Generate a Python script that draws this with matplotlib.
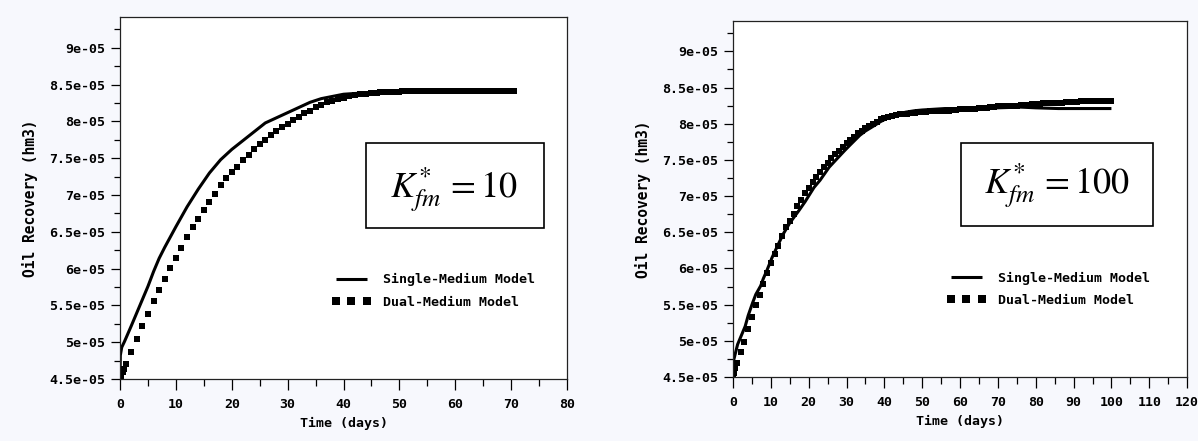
import numpy as np
import matplotlib
matplotlib.use("Agg")
import matplotlib.pyplot as plt
from matplotlib.patches import Rectangle

plt.rcParams['mathtext.fontset'] = 'stix'
plt.rcParams['font.family'] = 'DejaVu Sans Mono'

# ---- left panel (K*fm = 10), values in 1e-05 hm3 ----
t_single_10 = [0, 0.05, 0.3, 0.8, 2, 3, 4, 5, 6, 7, 8, 9, 10, 12, 14, 16, 18, 20, 22,
               24, 26, 28, 30, 32, 34, 36, 38, 40, 42, 45, 50, 55, 60, 65, 70.5]
v_single_10 = [4.50, 4.82, 4.93, 5.01, 5.22, 5.40, 5.58, 5.76, 5.96, 6.14, 6.29, 6.43,
               6.57, 6.84, 7.08, 7.30, 7.48, 7.62, 7.74, 7.86, 7.98, 8.05, 8.12, 8.19,
               8.26, 8.31, 8.34, 8.37, 8.38, 8.39, 8.40, 8.41, 8.41, 8.41, 8.41]

t_dual_10 = [0, 0.25, 0.5, 0.75, 1, 2, 3, 4, 5, 6, 7, 8, 9, 10, 11, 12, 13, 14, 15, 16,
             17, 18, 19, 20, 21, 22, 23, 24, 25, 26, 27, 28, 29, 30, 31, 32, 33, 34, 35,
             36, 37, 38, 39, 40, 41, 42, 43, 44, 45,
             45.5, 46, 46.5, 47, 47.5, 48, 48.5, 49, 49.5, 50, 50.5, 51, 51.5, 52, 52.5,
             53, 53.5, 54, 54.5, 55, 55.5, 56, 56.5, 57, 57.5, 58, 58.5, 59, 59.5, 60,
             60.5, 61, 61.5, 62, 62.5, 63, 63.5, 64, 64.5, 65, 65.5, 66, 66.5, 67, 67.5,
             68, 68.5, 69, 69.5, 70, 70.5]
v_dual_10 = [4.50, 4.54, 4.59, 4.64, 4.70, 4.87, 5.05, 5.22, 5.39, 5.56, 5.71, 5.86, 6.01,
             6.15, 6.28, 6.43, 6.56, 6.68, 6.79, 6.90, 7.02, 7.13, 7.23, 7.31, 7.38, 7.47,
             7.54, 7.62, 7.69, 7.75, 7.81, 7.87, 7.93, 7.97, 8.02, 8.06, 8.11, 8.14, 8.19,
             8.23, 8.26, 8.28, 8.30, 8.32, 8.34, 8.36, 8.37, 8.38, 8.39,
             8.39, 8.39, 8.40, 8.40, 8.40, 8.40, 8.40, 8.40, 8.40, 8.40, 8.41, 8.41, 8.41,
             8.41, 8.41, 8.41, 8.41, 8.41, 8.41, 8.41, 8.41, 8.41, 8.41, 8.41, 8.41, 8.41,
             8.41, 8.41, 8.41, 8.41, 8.41, 8.41, 8.41, 8.41, 8.41, 8.41, 8.41, 8.41, 8.41,
             8.41, 8.41, 8.41, 8.41, 8.41, 8.41, 8.41, 8.41, 8.41, 8.41, 8.41, 8.41]

# ---- right panel (K*fm = 100) ----
t_single_100 = [0, 0.2, 1.2, 2, 3.2, 4, 5.2, 6, 7.3, 8, 9, 10.3, 12, 13.3, 15, 17.4, 19,
                21.4, 23, 25.4, 27, 29.5, 31, 33.5, 35, 37.5, 39, 41.6, 43, 45.6, 48, 50,
                53, 56, 60, 66, 70, 76, 80, 86, 90, 95, 100]
v_single_100 = [4.50, 4.74, 4.95, 5.05, 5.20, 5.35, 5.53, 5.64, 5.76, 5.86, 5.98, 6.15,
                6.34, 6.48, 6.63, 6.80, 6.92, 7.12, 7.22, 7.40, 7.49, 7.63, 7.71, 7.84,
                7.90, 7.98, 8.03, 8.10, 8.12, 8.16, 8.18, 8.19, 8.20, 8.21, 8.21, 8.22,
                8.22, 8.23, 8.22, 8.21, 8.21, 8.21, 8.21]

t_dual_100 = [0, 0.25, 0.5, 1, 2, 3, 4, 5, 6, 7, 8, 9, 10, 11, 12, 13, 14, 15, 16, 17, 18,
              19, 20, 21, 22, 23, 24, 25, 26, 27, 28, 29, 30, 31, 32, 33, 34, 35, 36, 37,
              38, 39, 40, 41, 42, 43, 44, 45, 46, 47, 48, 49, 50, 51, 52, 53, 54, 55, 56,
              57, 58, 59, 60, 61, 62, 63, 64, 65, 66, 67, 68, 69, 70, 71, 72, 73, 74, 75,
              76, 77, 78, 79, 80, 81, 82, 83, 84, 85, 86, 87, 88, 89, 90, 91, 92, 93, 94,
              95, 96, 97, 98, 99, 100]
v_dual_100 = [4.50, 4.55, 4.62, 4.70, 4.84, 4.99, 5.16, 5.33, 5.49, 5.64, 5.78, 5.94,
              6.08, 6.20, 6.31, 6.45, 6.57, 6.66, 6.75, 6.86, 6.95, 7.04, 7.11, 7.19,
              7.26, 7.33, 7.40, 7.46, 7.52, 7.58, 7.63, 7.68, 7.73, 7.77, 7.82, 7.87,
              7.90, 7.94, 7.97, 8.00, 8.03, 8.06, 8.08, 8.10, 8.11, 8.12, 8.13, 8.14,
              8.14, 8.15, 8.15, 8.16, 8.16, 8.16, 8.17, 8.17, 8.17, 8.18, 8.18, 8.18,
              8.19, 8.19, 8.20, 8.20, 8.20, 8.21, 8.21, 8.22, 8.22, 8.22, 8.23, 8.23,
              8.24, 8.24, 8.24, 8.25, 8.25, 8.25, 8.26, 8.26, 8.26, 8.27, 8.27, 8.27,
              8.28, 8.28, 8.28, 8.29, 8.29, 8.29, 8.30, 8.30, 8.30, 8.30, 8.31, 8.31,
              8.31, 8.31, 8.31, 8.32, 8.32, 8.32, 8.32]

y_ticks = [4.5, 5, 5.5, 6, 6.5, 7, 7.5, 8, 8.5, 9]
y_tick_labels = ['4.5e-05', '5e-05', '5.5e-05', '6e-05', '6.5e-05', '7e-05',
                 '7.5e-05', '8e-05', '8.5e-05', '9e-05']
labels = ['Single-Medium Model', 'Dual-Medium Model']
box_texts = [r'$K^{*}_{fm}\,=10$', r'$K^{*}_{fm}\,=100$']

fig = plt.figure(figsize=(11.98, 4.41), dpi=100, facecolor='#f7f8fd')
ax1 = fig.add_axes([0.1002, 0.1406, 0.3731, 0.8209])
ax2 = fig.add_axes([0.6119, 0.1451, 0.3790, 0.8073])

panels = [
    (ax1, t_single_10, v_single_10, t_dual_10, v_dual_10, 80, box_texts[0],
     (0.550, 0.417, 0.399, 0.235), (0.747, 0.503), (0.474, 0.243)),
    (ax2, t_single_100, v_single_100, t_dual_100, v_dual_100, 120, box_texts[1],
     (0.502, 0.424, 0.423, 0.233), (0.714, 0.517), (0.471, 0.246)),
]

for ax, ts, vs, td, vd, xmax, btxt, box, tpos, lpos in panels:
    ax.set_facecolor('white')
    ax.plot(np.array(ts), np.array(vs) * 1e-5, color='black', lw=2.2,
            label=labels[0], solid_capstyle='butt')
    ax.plot(np.array(td), np.array(vd) * 1e-5, color='black', ls='none',
            marker='s', ms=3.7, mew=0, label=labels[1])
    ax.set_xlim(0, xmax)
    ax.set_ylim(4.5e-5, 9.42e-5)
    ax.set_xticks(np.arange(0, xmax + 1, 10))
    ax.set_xticks(np.arange(5, xmax, 10), minor=True)
    ax.set_yticks(np.array(y_ticks) * 1e-5)
    ax.set_yticklabels(y_tick_labels)
    ax.set_yticks(np.arange(4.75, 9.4, 0.5) * 1e-5, minor=True)
    ax.tick_params(axis='x', which='major', length=8, width=0.9, pad=6, labelsize=9.5)
    ax.tick_params(axis='x', which='minor', length=5, width=0.9)
    ax.tick_params(axis='y', which='major', length=6.5, width=0.9, pad=4, labelsize=9.5)
    ax.tick_params(axis='y', which='minor', length=4.5, width=0.9)
    for lbl in ax.get_xticklabels() + ax.get_yticklabels():
        lbl.set_fontweight('bold')
    for sp in ax.spines.values():
        sp.set_linewidth(0.9)
        sp.set_color('#222222')
    ax.set_xlabel('Time (days)', fontsize=9.5, fontweight='bold', labelpad=4)
    ax.set_ylabel('Oil Recovery (hm3)', fontsize=10.5, fontweight='bold', labelpad=8)

    ax.add_patch(Rectangle((box[0], box[1]), box[2], box[3], transform=ax.transAxes,
                           fill=False, lw=1.2, ec='black'))
    ax.text(tpos[0], tpos[1], btxt, transform=ax.transAxes, ha='center',
            va='baseline', fontsize=26)

    ax.legend(loc='center left', bbox_to_anchor=lpos, frameon=False,
              prop={'size': 9.5, 'weight': 'bold'},
              numpoints=3, handlelength=2.95, handletextpad=0.9, labelspacing=0.7,
              borderpad=0, borderaxespad=0, markerscale=1.5)

fig.savefig('out.png', dpi=100, facecolor=fig.get_facecolor())
